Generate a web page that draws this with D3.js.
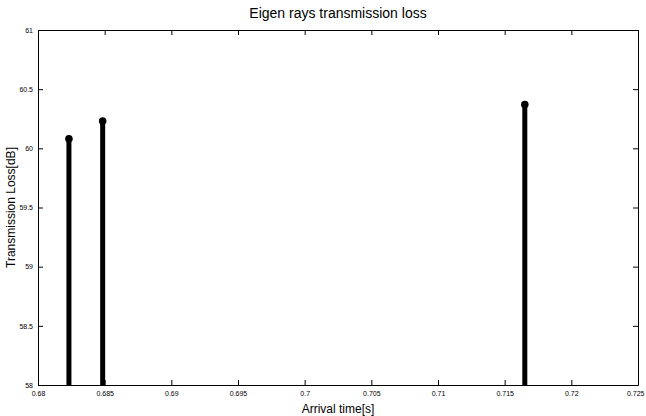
<!DOCTYPE html>
<html>
<head>
<meta charset="utf-8">
<script src="https://cdn.jsdelivr.net/npm/d3@7"></script>
<style>
  body { margin: 0; background: #fff; }
  svg { display: block; font-family: "Liberation Sans", Arial, sans-serif; }
</style>
</head>
<body>
<svg id="chart" width="646" height="416"></svg>
<script>
// arrival times [s] and transmission loss [dB] of the eigen rays
const arrivalTimes = [0.68232, 0.68485, 0.71651];
const lossValues = [60.08, 60.23, 60.37];
const xTicks = [0.68, 0.685, 0.69, 0.695, 0.7, 0.705, 0.71, 0.715, 0.72, 0.725];
const yTicks = [58, 58.5, 59, 59.5, 60, 60.5, 61];

const svg = d3.select('#chart');
const margin = { left: 38, right: 8, top: 30, bottom: 31 };
const width = 646 - margin.left - margin.right;
const height = 416 - margin.top - margin.bottom;

const x = d3.scaleLinear().domain([0.68, 0.725]).range([0, width]);
const y = d3.scaleLinear().domain([58, 61]).range([height, 0]);

const g = svg.append('g')
  .attr('transform', `translate(${margin.left},${margin.top})`);

// stems
const data = arrivalTimes.map((t, i) => ({ t, v: lossValues[i] }));
g.selectAll('.stem').data(data).enter().append('line')
  .classed('stem', true)
  .attr('x1', d => x(d.t)).attr('x2', d => x(d.t))
  .attr('y1', y(58)).attr('y2', d => y(d.v))
  .attr('stroke', '#000').attr('stroke-width', 5);
g.selectAll('.marker').data(data).enter().append('circle')
  .classed('marker', true)
  .attr('cx', d => x(d.t)).attr('cy', d => y(d.v))
  .attr('r', 3.8).attr('fill', '#000');

// axes, MATLAB style: ticks pointing inwards on all four sides
const fmt = d => String(d);
const axisBottom = g.append('g').attr('transform', `translate(0,${height})`)
  .call(d3.axisBottom(x).tickValues(xTicks).tickFormat(fmt).tickSizeInner(-5).tickSizeOuter(0).tickPadding(6));
const axisTop = g.append('g')
  .call(d3.axisTop(x).tickValues(xTicks).tickFormat('').tickSizeInner(-5).tickSizeOuter(0));
const axisLeft = g.append('g')
  .call(d3.axisLeft(y).tickValues(yTicks).tickFormat(fmt).tickSizeInner(-5).tickSizeOuter(0).tickPadding(5));
const axisRight = g.append('g').attr('transform', `translate(${width},0)`)
  .call(d3.axisRight(y).tickValues(yTicks).tickFormat('').tickSizeInner(-5).tickSizeOuter(0));

[axisBottom, axisTop, axisLeft, axisRight].forEach(a => {
  a.selectAll('path, line').attr('stroke', '#000').attr('stroke-width', 1);
  a.selectAll('text').attr('fill', '#000').style('font-size', '7px')
    .style('font-family', '"Liberation Sans", Arial, sans-serif');
});
// keep the last x label inside the page
axisBottom.selectAll('.tick text')
  .filter(d => d === 0.725)
  .attr('text-anchor', 'end').attr('dx', 6);

// titles
svg.append('text')
  .attr('x', margin.left + width / 2).attr('y', 18)
  .attr('text-anchor', 'middle')
  .style('font-size', '14px')
  .text('Eigen rays transmission loss');
svg.append('text')
  .attr('x', margin.left + width / 2).attr('y', 413)
  .attr('text-anchor', 'middle')
  .style('font-size', '12px')
  .text('Arrival time[s]');
svg.append('text')
  .attr('transform', `translate(15,${margin.top + height / 2}) rotate(-90)`)
  .attr('text-anchor', 'middle')
  .style('font-size', '12px')
  .text('Transmission Loss[dB]');
</script>
</body>
</html>
